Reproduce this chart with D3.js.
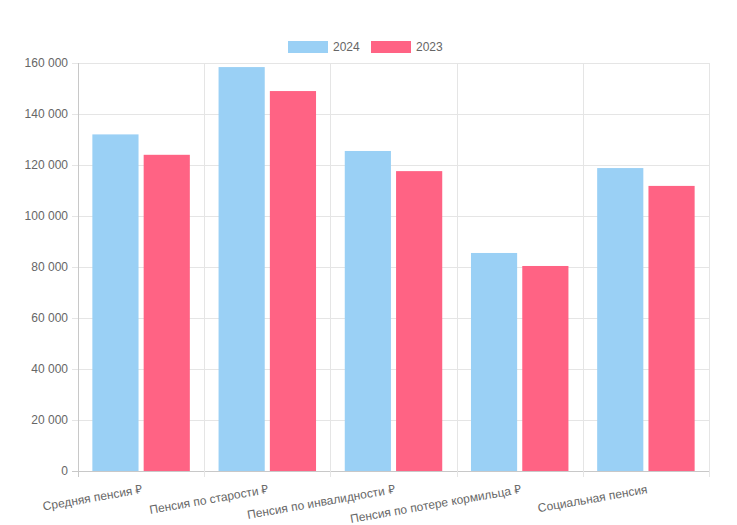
<!DOCTYPE html>
<html><head><meta charset="utf-8">
<script src="https://cdn.jsdelivr.net/npm/d3@7"></script>
<style>body{margin:0;background:#fff}text{font-family:"Liberation Sans",Arial,sans-serif;fill:#666;font-size:12px}</style>
</head><body><svg id="c" width="737" height="525"></svg>
<script>
const categories = ["Средняя пенсия ₽","Пенсия по старости ₽","Пенсия по инвалидности ₽","Пенсия по потере кормильца ₽","Социальная пенсия"];
const seriesNames = ["2024","2023"];
const values2024 = [132000,158400,125500,85500,118800];
const values2023 = [124000,149000,117600,80400,111800];
const yTicks = [0,20000,40000,60000,80000,100000,120000,140000,160000];
const colors = ["#9ad0f5","#ff6384"];
const borders = ["#36a2eb","#ff6384"];

const svg = d3.select("#c");
const L=78,R=709,T=63,B=471;
const x = d3.scaleBand().domain(categories).range([L,R]);
const xs = d3.scaleBand().domain(seriesNames).range([0,x.bandwidth()]).paddingInner(0.1).paddingOuter(0.28);
const y = d3.scaleLinear().domain([0,160000]).range([B,T]);
const fmt = v => d3.format(",")(v).replace(/,/g," ");

// grid
svg.append("g").selectAll("line").data(yTicks).join("line")
 .attr("x1",L-6).attr("x2",R).attr("y1",d=>y(d)+0.5).attr("y2",d=>y(d)+0.5)
 .attr("stroke",(d)=>d===0?"#c8c8c8":"#e5e5e5");
const xl = categories.map(c=>x(c)).concat([R]);
svg.append("g").selectAll("line").data(xl).join("line")
 .attr("x1",d=>Math.round(d)+0.5).attr("x2",d=>Math.round(d)+0.5).attr("y1",T).attr("y2",B+6)
 .attr("stroke",(d,i)=>i===0?"#c8c8c8":"#e5e5e5");
svg.append("g").selectAll("text").data(yTicks).join("text")
 .attr("x",L-10).attr("y",d=>y(d)+4).attr("text-anchor","end").text(fmt);

const data=[values2024,values2023];
data.forEach((vals,si)=>{
  svg.append("g").selectAll("rect").data(categories).join("rect")
   .attr("x",c=>x(c)+xs(seriesNames[si])).attr("width",xs.bandwidth())
   .attr("y",(c,i)=>y(vals[i])).attr("height",(c,i)=>B-y(vals[i]))
   .attr("fill",colors[si]).attr("stroke",colors[si]).attr("stroke-width",0);
});

svg.append("g").selectAll("text").data(categories).join("text")
 .attr("text-anchor","end")
 .attr("transform",c=>`translate(${x(c)+x.bandwidth()/2+2},${B+22}) rotate(-10)`)
 .text(c=>c);

// legend
const lg=[{n:"2024",x:288},{n:"2023",x:371}];
lg.forEach((l,i)=>{
  svg.append("rect").attr("x",l.x).attr("y",41).attr("width",40).attr("height",12).attr("fill",colors[i]);
  svg.append("text").attr("x",l.x+45).attr("y",51).text(l.n);
});
</script></body></html>
